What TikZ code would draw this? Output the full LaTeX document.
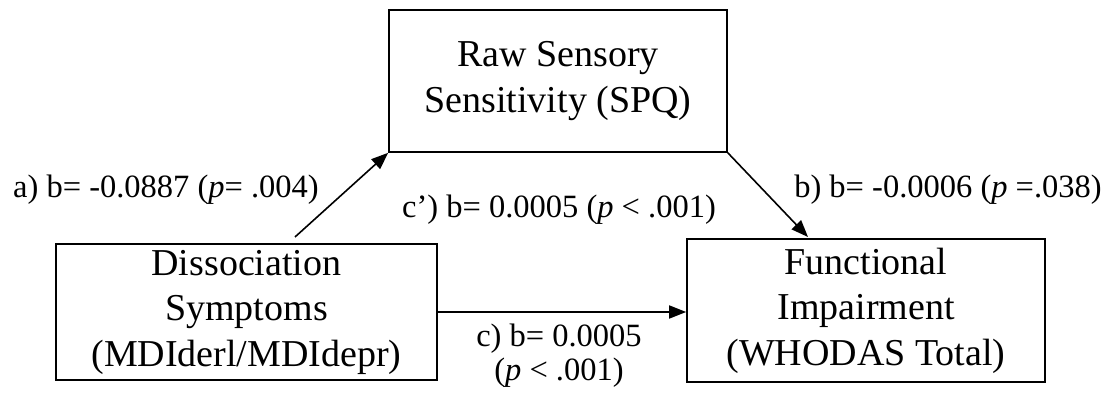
\documentclass[tikz,border=0pt]{standalone}
\usepackage{fontspec}
\setmainfont{Liberation Serif}
\usetikzlibrary{arrows.meta}
\tikzset{
  box/.style={draw, line width=1.6pt, inner sep=0pt, align=center,
    font=\fontsize{38}{45.5}\selectfont},
  lbl/.style={inner sep=0pt, font=\fontsize{32.5}{34}\selectfont},
  conn/.style={line width=1.6pt, -{Triangle[length=17pt,width=13pt]}}
}
\begin{document}
\begin{tikzpicture}[x=1pt,y=-1pt]
\useasboundingbox (0,0) rectangle (1109,395);
\node[box, minimum width=338pt, minimum height=142pt] (T) at (558,81) {Raw Sensory\\Sensitivity (SPQ)};
\node[box, minimum width=381pt, minimum height=136pt] (L) at (246.5,312) {Dissociation\\Symptoms\\(MDIderl/MDIdepr)};
\node[box, minimum width=358pt, minimum height=143pt] (R) at (866,310.5) {Functional\\Impairment\\(WHODAS Total)};
\coordinate (aS) at (295,237);
\coordinate (bE) at (808,237);
\draw[conn] (aS) -- (T.south west);
\draw[conn] (T.south east) -- (bE);
\draw[conn] (L.east) -- (L.east -| R.west);
\node[lbl, anchor=base] (la) at (166,198) {a) b= -0.0887 (\textit{p}= .004)};
\node[lbl, anchor=base] (lc2) at (559,218) {c’) b= 0.0005 (\textit{p} < .001)};
\node[lbl, anchor=base] (lb) at (948,198) {b) b= -0.0006 (\textit{p} =.038)};
\node[lbl, align=center] (lc) at (559,356) {c) b= 0.0005\\(\textit{p} < .001)};
\end{tikzpicture}
\end{document}
